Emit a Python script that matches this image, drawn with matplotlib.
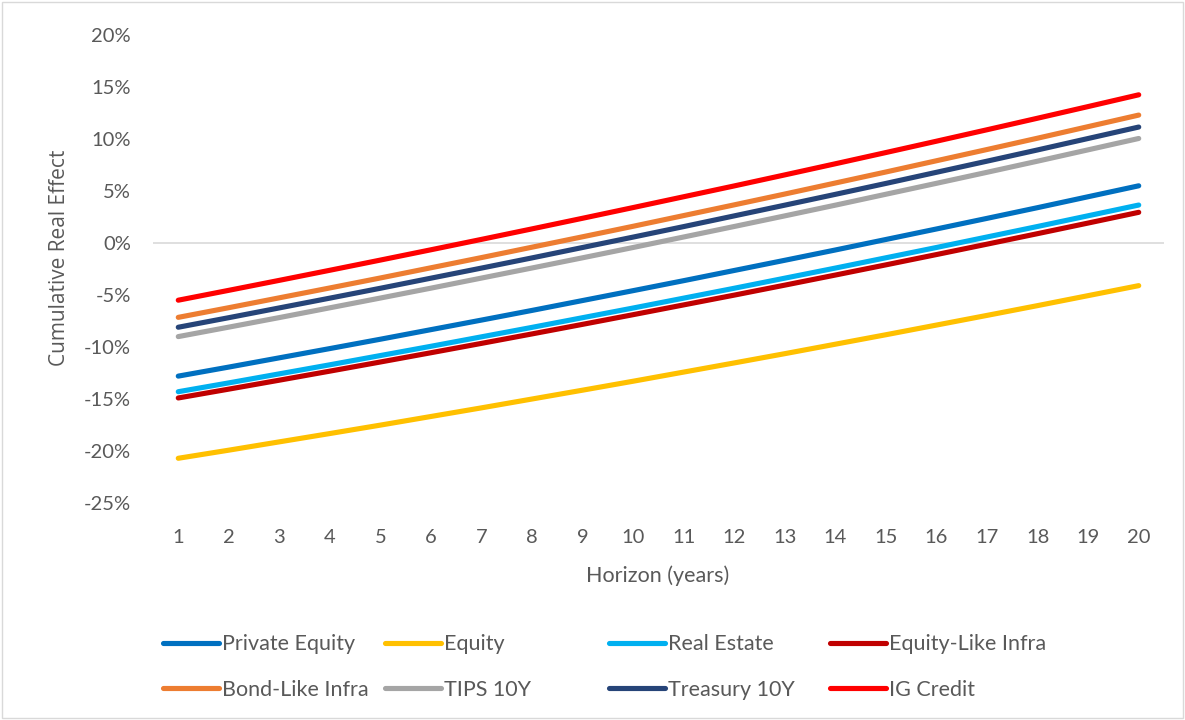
import matplotlib
matplotlib.use("Agg")
import matplotlib.pyplot as plt
from matplotlib.patches import Rectangle
from matplotlib.ticker import FuncFormatter

# cumulative real effect (%) by horizon, one list per asset class
years = list(range(1, 21))
private_equity = [-12.80, -11.93, -11.04, -10.15, -9.25, -8.33, -7.41, -6.48, -5.53, -4.58,
                  -3.62, -2.64, -1.66, -0.67, 0.34, 1.35, 2.37, 3.40, 4.45, 5.50]
equity = [-20.70, -19.92, -19.12, -18.32, -17.51, -16.68, -15.85, -15.00, -14.15, -13.29,
          -12.41, -11.53, -10.64, -9.73, -8.82, -7.89, -6.96, -6.02, -5.06, -4.10]
real_estate = [-14.30, -13.45, -12.58, -11.71, -10.82, -9.93, -9.02, -8.11, -7.18, -6.25,
               -5.30, -4.35, -3.38, -2.41, -1.42, -0.43, 0.58, 1.59, 2.62, 3.65]
equity_infra = [-14.90, -14.05, -13.19, -12.32, -11.44, -10.55, -9.65, -8.74, -7.82, -6.89,
                -5.95, -5.01, -4.05, -3.08, -2.10, -1.11, -0.11, 0.90, 1.92, 2.95]
bond_infra = [-7.15, -6.22, -5.27, -4.32, -3.36, -2.38, -1.40, -0.40, 0.60, 1.61,
              2.64, 3.67, 4.71, 5.77, 6.83, 7.91, 8.99, 10.08, 11.19, 12.30]
tips_10y = [-9.00, -8.09, -7.17, -6.23, -5.29, -4.34, -3.37, -2.40, -1.42, -0.43,
            0.58, 1.59, 2.61, 3.64, 4.69, 5.74, 6.80, 7.87, 8.96, 10.05]
treasury_10y = [-8.10, -7.18, -6.24, -5.30, -4.35, -3.38, -2.41, -1.43, -0.43, 0.57,
                1.58, 2.61, 3.64, 4.68, 5.73, 6.80, 7.87, 8.95, 10.05, 11.15]
ig_credit = [-5.50, -4.55, -3.59, -2.62, -1.64, -0.65, 0.35, 1.36, 2.38, 3.41,
             4.45, 5.49, 6.55, 7.62, 8.70, 9.79, 10.89, 12.00, 13.12, 14.25]

names = ["Private Equity", "Equity", "Real Estate", "Equity-Like Infra",
         "Bond-Like Infra", "TIPS 10Y", "Treasury 10Y", "IG Credit"]
series = [private_equity, equity, real_estate, equity_infra,
          bond_infra, tips_10y, treasury_10y, ig_credit]
colors = ["#0070C0", "#FFC000", "#00B0F0", "#C00000",
          "#ED7D31", "#A5A5A5", "#264478", "#FF0000"]

text_color = "#595959"
tick_font = "Lato"

W, H = 1185, 720
fig = plt.figure(figsize=(W / 100, H / 100), dpi=100)
fig.patch.set_facecolor("white")
fig.add_artist(Rectangle((2 / W, 2 / H), 1 - 4 / W, 1 - 4 / H, transform=fig.transFigure,
                         fill=False, edgecolor="#D9D9D9", linewidth=1))

ax = fig.add_axes([153 / W, 1 - 503 / H, (1164 - 153) / W, (503 - 35) / H])

lines = []
for name, vals, c in zip(names, series, colors):
    ln, = ax.plot(years, vals, color=c, linewidth=3.7, solid_capstyle="round", label=name)
    lines.append(ln)

ax.axhline(0, color="#D9D9D9", linewidth=1.2, zorder=0)
ax.set_xlim(0.5, 20.5)
ax.set_ylim(-25, 20)
ax.set_xticks(years)
ax.set_yticks(range(-25, 21, 5))
ax.yaxis.set_major_formatter(FuncFormatter(lambda v, p: f"{v:.0f}%"))
for s in ax.spines.values():
    s.set_visible(False)
ax.tick_params(length=0, labelsize=14.5, labelcolor=text_color)
ax.tick_params(axis="y", pad=16)
ax.tick_params(axis="x", pad=19)
for lab in ax.get_xticklabels() + ax.get_yticklabels():
    lab.set_fontfamily(tick_font)

ax.set_xlabel("Horizon (years)", fontsize=15.5, color=text_color, family=tick_font, va="center")
ax.xaxis.set_label_coords(0.4995, -0.156)
ax.set_ylabel("Cumulative Real Effect", fontsize=15, color=text_color, family="Open Sans",
              va="center")
ax.yaxis.set_label_coords(-0.092, 0.5235)

# four legend columns, two rows each
col_x = [163, 385, 609, 830]
for i, x in enumerate(col_x):
    leg = fig.legend([lines[i], lines[i + 4]], [names[i], names[i + 4]],
                     loc="center left", bbox_to_anchor=(x / W, 1 - 667 / H),
                     frameon=False, borderpad=0, borderaxespad=0,
                     handlelength=2.6, handletextpad=0.12, labelspacing=1.2,
                     prop={"family": tick_font, "size": 15.5})
    for t in leg.get_texts():
        t.set_color(text_color)

fig.savefig("out.png", dpi=100)
